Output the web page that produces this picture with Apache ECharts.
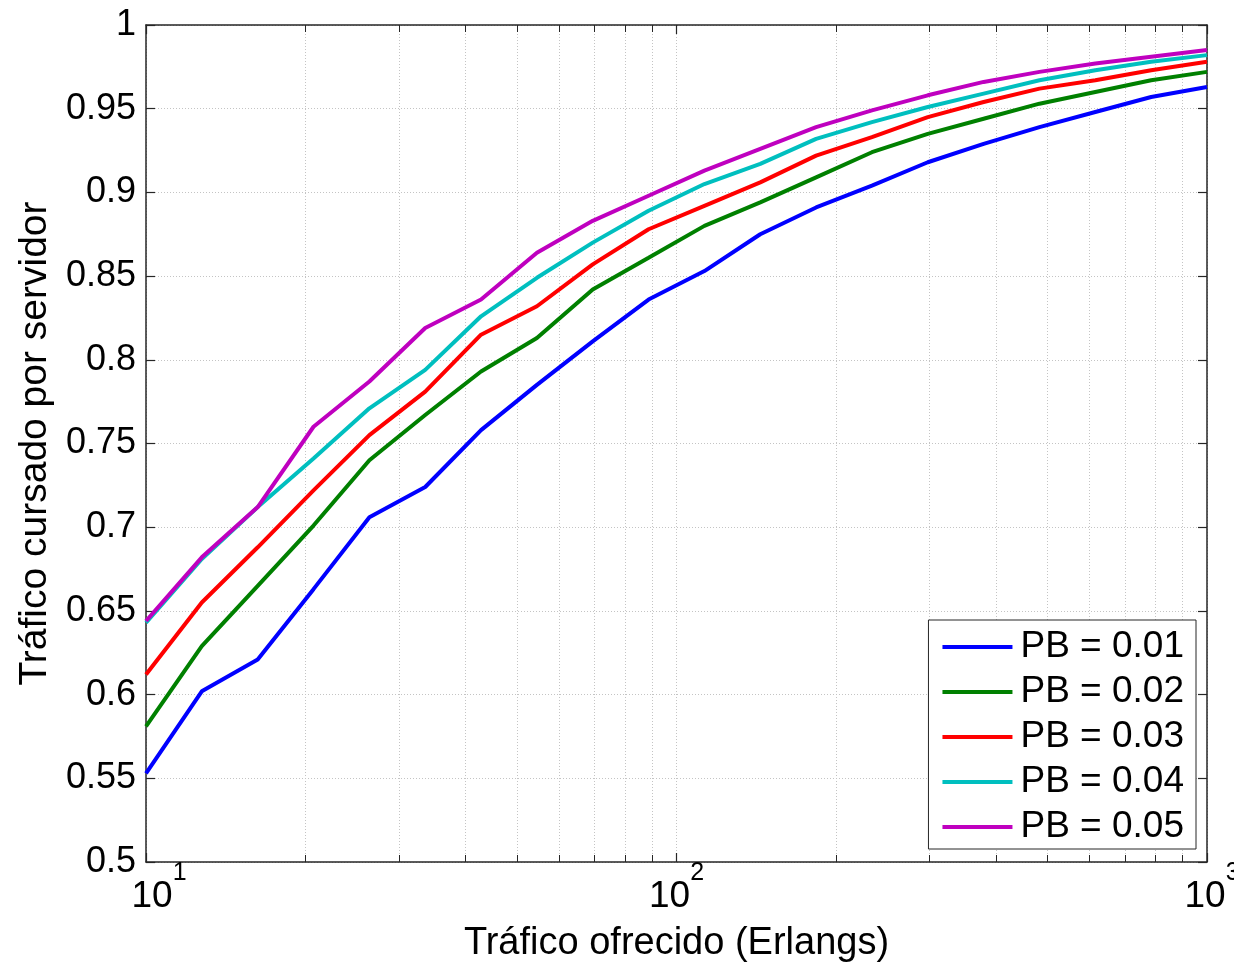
<!DOCTYPE html>
<html>
<head>
<meta charset="utf-8">
<script src="https://cdn.jsdelivr.net/npm/echarts@6/dist/echarts.min.js"></script>
<style>
  html, body { margin: 0; padding: 0; background: #fff; }
  #chart { width: 1234px; height: 963px; }
</style>
</head>
<body>
<div id="chart"></div>
<script>
// offered traffic (Erlangs), log spaced
const traffic = [10, 12.74, 16.24, 20.69, 26.37, 33.60, 42.81, 54.56, 69.52, 88.59,
  112.88, 143.84, 183.30, 233.57, 297.64, 379.27, 483.29, 615.85, 784.76, 1000];

// carried traffic per server, one list per blocking probability
const pb01 = [0.553, 0.602, 0.621, 0.663, 0.706, 0.724, 0.758, 0.785, 0.811, 0.836,
  0.853, 0.875, 0.891, 0.904, 0.918, 0.929, 0.939, 0.948, 0.957, 0.963];
const pb02 = [0.581, 0.629, 0.665, 0.701, 0.740, 0.767, 0.793, 0.813, 0.842, 0.861,
  0.880, 0.894, 0.909, 0.924, 0.935, 0.944, 0.953, 0.960, 0.967, 0.972];
const pb03 = [0.612, 0.655, 0.688, 0.722, 0.755, 0.781, 0.815, 0.832, 0.857, 0.878,
  0.892, 0.906, 0.922, 0.933, 0.945, 0.954, 0.962, 0.967, 0.973, 0.978];
const pb04 = [0.643, 0.681, 0.712, 0.741, 0.771, 0.794, 0.826, 0.849, 0.870, 0.889,
  0.905, 0.917, 0.932, 0.942, 0.951, 0.959, 0.967, 0.973, 0.978, 0.982];
const pb05 = [0.644, 0.682, 0.712, 0.760, 0.787, 0.819, 0.836, 0.864, 0.883, 0.898,
  0.913, 0.926, 0.939, 0.949, 0.958, 0.966, 0.972, 0.977, 0.981, 0.985];

const seriesNames = ['PB = 0.01', 'PB = 0.02', 'PB = 0.03', 'PB = 0.04', 'PB = 0.05'];
const seriesColors = ['#0000ff', '#008000', '#ff0000', '#00bfbf', '#bf00bf'];
const seriesData = [pb01, pb02, pb03, pb04, pb05];

const font = 'Liberation Sans, Arial, Helvetica, sans-serif';
const axisColor = '#262626';
const gridStyle = { color: '#c4c4c4', width: 1, type: [1, 2] };

// base "10" of the decade labels; left pad nudges each one like the original
const baseStyle = (pad) => ({
  fontFamily: font, fontSize: 37, color: '#000', lineHeight: 54,
  verticalAlign: 'bottom', padding: [0, 0, 0, pad],
});

const chart = echarts.init(document.getElementById('chart'), null, { renderer: 'canvas' });

chart.setOption({
  animation: false,
  backgroundColor: '#ffffff',
  textStyle: { fontFamily: font },
  grid: { left: 146, right: 27, top: 25, bottom: 101, containLabel: false, outerBoundsMode: 'none' },
  legend: {
    orient: 'vertical',
    right: 38,
    bottom: 114,
    backgroundColor: '#ffffff',
    borderColor: axisColor,
    borderWidth: 1,
    borderRadius: 0,
    padding: [6, 12, 1, 14],
    icon: 'rect',
    itemWidth: 70,
    itemHeight: 4,
    itemGap: 3,
    textStyle: { fontFamily: font, fontSize: 37, color: '#000', lineHeight: 42, padding: [0, 0, 0, 3] },
    data: seriesNames,
  },
  xAxis: [
    {
      type: 'log',
      logBase: 10,
      min: 10,
      max: 1000,
      name: 'Tráfico ofrecido (Erlangs)',
      nameLocation: 'middle',
      nameGap: 63,
      nameMoveOverlap: false,
      nameTextStyle: { fontFamily: font, fontSize: 38, color: '#000' },
      axisLine: { onZero: false, lineStyle: { color: axisColor, width: 1.5 } },
      axisTick: { inside: true, length: 9, lineStyle: { color: axisColor, width: 1.2 } },
      minorTick: { show: true, splitNumber: 9, length: 7, lineStyle: { color: axisColor, width: 1 } },
      splitLine: { show: true, lineStyle: gridStyle },
      minorSplitLine: { show: true, lineStyle: gridStyle },
      axisLabel: {
        margin: -1,
        formatter: (v) => {
          const e = Math.round(Math.log10(v));
          return '{b' + e + '|10}{s|' + e + '}';
        },
        rich: {
          b1: baseStyle(26),
          b2: baseStyle(0),
          b3: baseStyle(10),
          s: { fontFamily: font, fontSize: 25, color: '#000', lineHeight: 25, verticalAlign: 'top' },
        },
      },
    },
    {
      type: 'log',
      logBase: 10,
      min: 10,
      max: 1000,
      position: 'top',
      axisLine: { onZero: false, lineStyle: { color: axisColor, width: 1.5 } },
      axisTick: { inside: true, length: 9, lineStyle: { color: axisColor, width: 1.2 } },
      minorTick: { show: true, splitNumber: 9, length: 7, lineStyle: { color: axisColor, width: 1 } },
      axisLabel: { show: false },
      splitLine: { show: false },
    },
  ],
  yAxis: [
    {
      type: 'value',
      min: 0.5,
      max: 1,
      interval: 0.05,
      name: 'Tráfico cursado por servidor',
      nameLocation: 'middle',
      nameGap: 86,
      nameTextStyle: { fontFamily: font, fontSize: 39, color: '#000' },
      axisLine: { show: true, onZero: false, lineStyle: { color: axisColor, width: 1.5 } },
      axisTick: { show: true, inside: true, length: 9, lineStyle: { color: axisColor, width: 1.2 } },
      splitLine: { show: true, lineStyle: gridStyle },
      axisLabel: {
        margin: 10,
        fontFamily: font,
        fontSize: 36,
        color: '#000',
        formatter: (v) => String(parseFloat(v.toFixed(2))),
      },
    },
    {
      type: 'value',
      min: 0.5,
      max: 1,
      interval: 0.05,
      position: 'right',
      axisLine: { show: true, onZero: false, lineStyle: { color: axisColor, width: 1.5 } },
      axisTick: { show: true, inside: true, length: 9, lineStyle: { color: axisColor, width: 1.2 } },
      axisLabel: { show: false },
      splitLine: { show: false },
    },
  ],
  series: seriesNames.map((name, i) => ({
    name,
    type: 'line',
    xAxisIndex: 0,
    yAxisIndex: 0,
    showSymbol: false,
    symbol: 'none',
    color: seriesColors[i],
    lineStyle: { width: 4, color: seriesColors[i] },
    data: traffic.map((x, k) => [x, seriesData[i][k]]),
    z: 2 + i,
  })),
});
</script>
</body>
</html>
